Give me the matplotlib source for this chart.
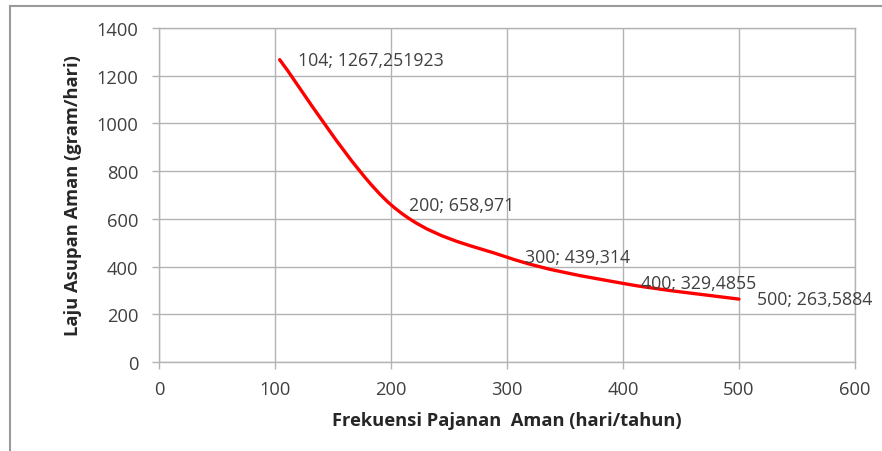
import matplotlib.pyplot as plt
from matplotlib.path import Path
from matplotlib.patches import PathPatch
from matplotlib.lines import Line2D

# data
frekuensi = [104, 200, 300, 400, 500]
laju_asupan = [1267.251923, 658.971, 439.314, 329.4855, 263.5884]
label_text = ["104; 1267,251923", "200; 658,971", "300; 439,314",
              "400; 329,4855", "500; 263,5884"]

x_ticks = [0, 100, 200, 300, 400, 500, 600]
y_ticks = [0, 200, 400, 600, 800, 1000, 1200, 1400]

plt.rcParams['font.family'] = ['Open Sans', 'DejaVu Sans']

fig = plt.figure(figsize=(8.82, 4.52), dpi=100)
ax = fig.add_axes([0.1803, 0.1969, 0.7891, 0.7389])

# smoothed line like Excel (bezier through the points)
def smooth_path(xs, ys):
    pts = list(zip(xs, ys))
    verts = [pts[0]]
    codes = [Path.MOVETO]
    n = len(pts)
    for i in range(n - 1):
        p0 = pts[i - 1] if i > 0 else pts[i]
        p1 = pts[i]
        p2 = pts[i + 1]
        p3 = pts[i + 2] if i + 2 < n else pts[i + 1]
        c1 = (p1[0] + (p2[0] - p0[0]) / 6, p1[1] + (p2[1] - p0[1]) / 6)
        c2 = (p2[0] - (p3[0] - p1[0]) / 6, p2[1] - (p3[1] - p1[1]) / 6)
        verts += [c1, c2, p2]
        codes += [Path.CURVE4] * 3
    return Path(verts, codes)

ax.add_patch(PathPatch(smooth_path(frekuensi, laju_asupan), facecolor='none',
                       edgecolor='#ff0000', lw=2.4, capstyle='round', zorder=3))

for x, y, t in zip(frekuensi, laju_asupan, label_text):
    ax.annotate(t, (x, y), xytext=(13, 0), textcoords='offset points',
                ha='left', va='center', fontsize=12.8, color='#404040', zorder=4)

ax.set_xlim(0, 600)
ax.set_ylim(0, 1400)
ax.set_xticks(x_ticks)
ax.set_yticks(y_ticks)
ax.grid(True, color='#b3b3b3', lw=1.0)
ax.set_axisbelow(True)
for s in ax.spines.values():
    s.set_color('#b3b3b3')
    s.set_linewidth(1.0)
ax.tick_params(direction='out', length=5, width=1.0, color='#b3b3b3',
               labelsize=13.2, labelcolor='#404040')
ax.tick_params(axis='x', pad=8)
ax.tick_params(axis='y', pad=10)

ax.set_xlabel('Frekuensi Pajanan  Aman (hari/tahun)', fontsize=13.2,
              fontweight='bold', color='#262626', labelpad=9)
ax.set_ylabel('Laju Asupan Aman (gram/hari)', fontsize=13.2,
              fontweight='bold', color='#262626', labelpad=10)

# outer chart frame (left and top edges visible)
fig.add_artist(Line2D([10 / 882, 10 / 882], [0, 1 - 7 / 452],
                      transform=fig.transFigure, color='#9a9a9a', lw=1.5))
fig.add_artist(Line2D([10 / 882, 1], [1 - 7 / 452, 1 - 7 / 452],
                      transform=fig.transFigure, color='#9a9a9a', lw=1.5))

fig.savefig('out.png', dpi=100)
